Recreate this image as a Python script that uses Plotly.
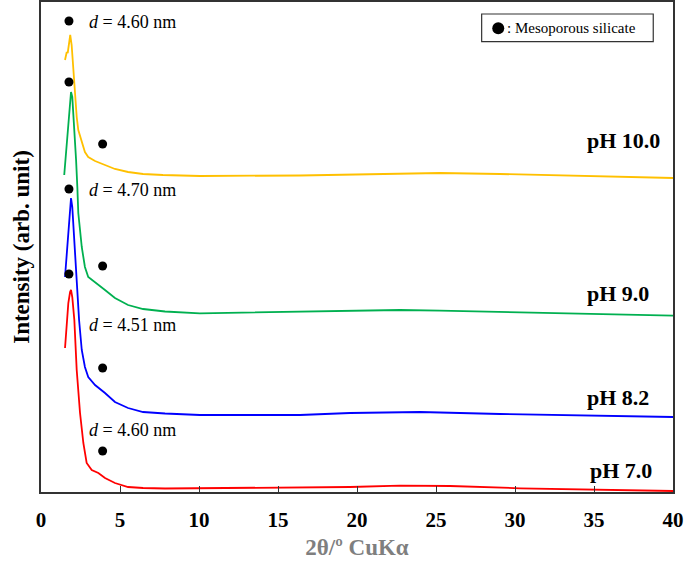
import plotly.graph_objects as go

# ---- data (2θ in degrees, intensity in arbitrary stacked units) ----
x_ph100 = [1.52, 1.63, 1.69, 1.77, 1.85, 1.94, 2.04, 2.15, 2.26, 2.36, 2.58, 2.78, 2.99, 3.42, 4.05,
           4.68, 5.51, 6.46, 7.72, 10.06, 16.39, 22.72, 25.25, 29.05, 32.85, 40.0]
y_ph100 = [432, 440, 439, 447, 457, 447, 422, 395, 375, 362, 349, 340, 335, 331, 327,
           323, 320, 318, 317, 316, 316.5, 318, 319, 318, 316.5, 314]

x_ph90 = [1.47, 1.63, 1.77, 1.90, 1.98, 2.11, 2.22, 2.30, 2.36, 2.58, 2.78, 2.99, 3.42, 4.05,
          4.68, 5.51, 6.46, 7.85, 10.06, 16.39, 22.72, 25.25, 29.05, 32.85, 40.0]
y_ph90 = [317, 345, 372, 400, 395, 365, 332, 305, 279, 245, 225, 215, 210, 202,
          194, 187, 183, 180.5, 178.7, 180, 182, 181.3, 180, 178.7, 176.3]

x_ph82 = [1.52, 1.63, 1.73, 1.84, 1.90, 1.98, 2.11, 2.26, 2.41, 2.58, 2.78, 2.99, 3.42, 4.05,
          4.68, 5.51, 6.46, 7.85, 10.06, 16.39, 19.56, 23.99, 29.05, 40.0]
y_ph82 = [215, 239, 265, 289, 294, 285, 252, 212, 172, 142, 125, 115, 107, 99,
          90, 84, 80, 78.5, 77, 77, 79, 80, 78, 75]

x_ph70 = [1.52, 1.63, 1.73, 1.84, 1.90, 1.98, 2.11, 2.26, 2.47, 2.68, 2.89, 3.21, 3.63, 4.05,
          4.68, 5.51, 6.46, 7.85, 10.06, 16.39, 19.56, 22.72, 25.89, 30.32, 40.0]
y_ph70 = [144, 169, 189, 200, 202, 195, 172, 122, 79, 49, 29, 22, 19, 14,
          9, 5, 4, 3.5, 3.7, 4, 5, 6.3, 6, 3.7, 1]

series_names = ["pH 7.0", "pH 8.2", "pH 9.0", "pH 10.0"]
series_colors = ["#FF0000", "#0000FF", "#00B050", "#FFC000"]

# mesoporous silicate reflection markers
peak_x = [1.77, 1.77, 3.90, 1.77, 3.90, 1.77, 3.90, 3.90]
peak_y = [471, 410, 348, 303, 226, 218, 124, 41]

# d-spacing labels
d_labels = ["4.60", "4.70", "4.51", "4.60"]
d_label_x = [2.93, 2.93, 2.93, 2.93]
d_label_y = [470, 302, 167, 62]

# pH labels (right-aligned)
ph_label_x = [38.8, 38.6, 38.6, 39.3]
ph_label_y = [22, 95, 199, 352]

xs = [x_ph70, x_ph82, x_ph90, x_ph100]
ys = [y_ph70, y_ph82, y_ph90, y_ph100]

FONT = "Liberation Serif"

fig = go.Figure()
for xv, yv, nm, col in zip(xs, ys, series_names, series_colors):
    fig.add_trace(go.Scatter(x=xv, y=yv, mode="lines", name=nm,
                             line=dict(color=col, width=1.8), showlegend=False))

fig.add_trace(go.Scatter(x=peak_x, y=peak_y, mode="markers",
                         marker=dict(color="black", size=9), showlegend=False))

for t, xv, yv in zip(d_labels, d_label_x, d_label_y):
    fig.add_annotation(x=xv, y=yv, text=f"<i>d</i> = {t} nm", showarrow=False,
                       xanchor="left", yanchor="middle",
                       font=dict(family=FONT, size=18, color="black"))

for t, xv, yv in zip(series_names, ph_label_x, ph_label_y):
    fig.add_annotation(x=xv, y=yv, text=f"<b>{t}</b>", showarrow=False,
                       xanchor="right", yanchor="middle",
                       font=dict(family=FONT, size=22, color="black"))

# legend box
fig.add_shape(type="rect", x0=27.89, x1=38.75, y0=450.3, y1=478, layer="below",
              line=dict(color="#333333", width=1.2), fillcolor="white")
fig.add_trace(go.Scatter(x=[28.94], y=[463.7], mode="markers",
                         marker=dict(color="black", size=12), showlegend=False))
fig.add_annotation(x=29.35, y=463.7, text=": Mesoporous silicate", showarrow=False,
                   xanchor="left", yanchor="middle",
                   font=dict(family=FONT, size=15, color="black"))

fig.update_layout(
    width=685, height=562,
    margin=dict(l=41, r=12, t=2, b=70),
    paper_bgcolor="white", plot_bgcolor="white",
    font=dict(family=FONT, color="black"),
)
fig.update_xaxes(range=[0, 40], tickvals=[0, 5, 10, 15, 20, 25, 30, 35, 40],
                 ticks="inside", ticklen=6, tickcolor="#333333", tickwidth=1.2,
                 ticklabelstandoff=8,
                 showline=True, linecolor="#333333", linewidth=1.5, mirror=True,
                 showgrid=False, zeroline=False, automargin=False,
                 tickfont=dict(family=FONT, size=21, color="black", weight="bold"),
                 title=dict(text="<b>2θ/º CuKα</b>", standoff=8,
                            font=dict(family=FONT, size=23, color="#7F7F7F")))
fig.update_yaxes(range=[0, 490], showticklabels=False, ticks="",
                 showline=True, linecolor="#333333", linewidth=1.5, mirror=True,
                 showgrid=False, zeroline=False, automargin=False,
                 title=dict(text="<b>Intensity (arb. unit)</b>", standoff=3,
                            font=dict(family=FONT, size=23, color="black")))

fig.write_html("out.html", config={"displayModeBar": False},
               post_script="document.body.style.margin='0';document.body.style.overflow='hidden';")
